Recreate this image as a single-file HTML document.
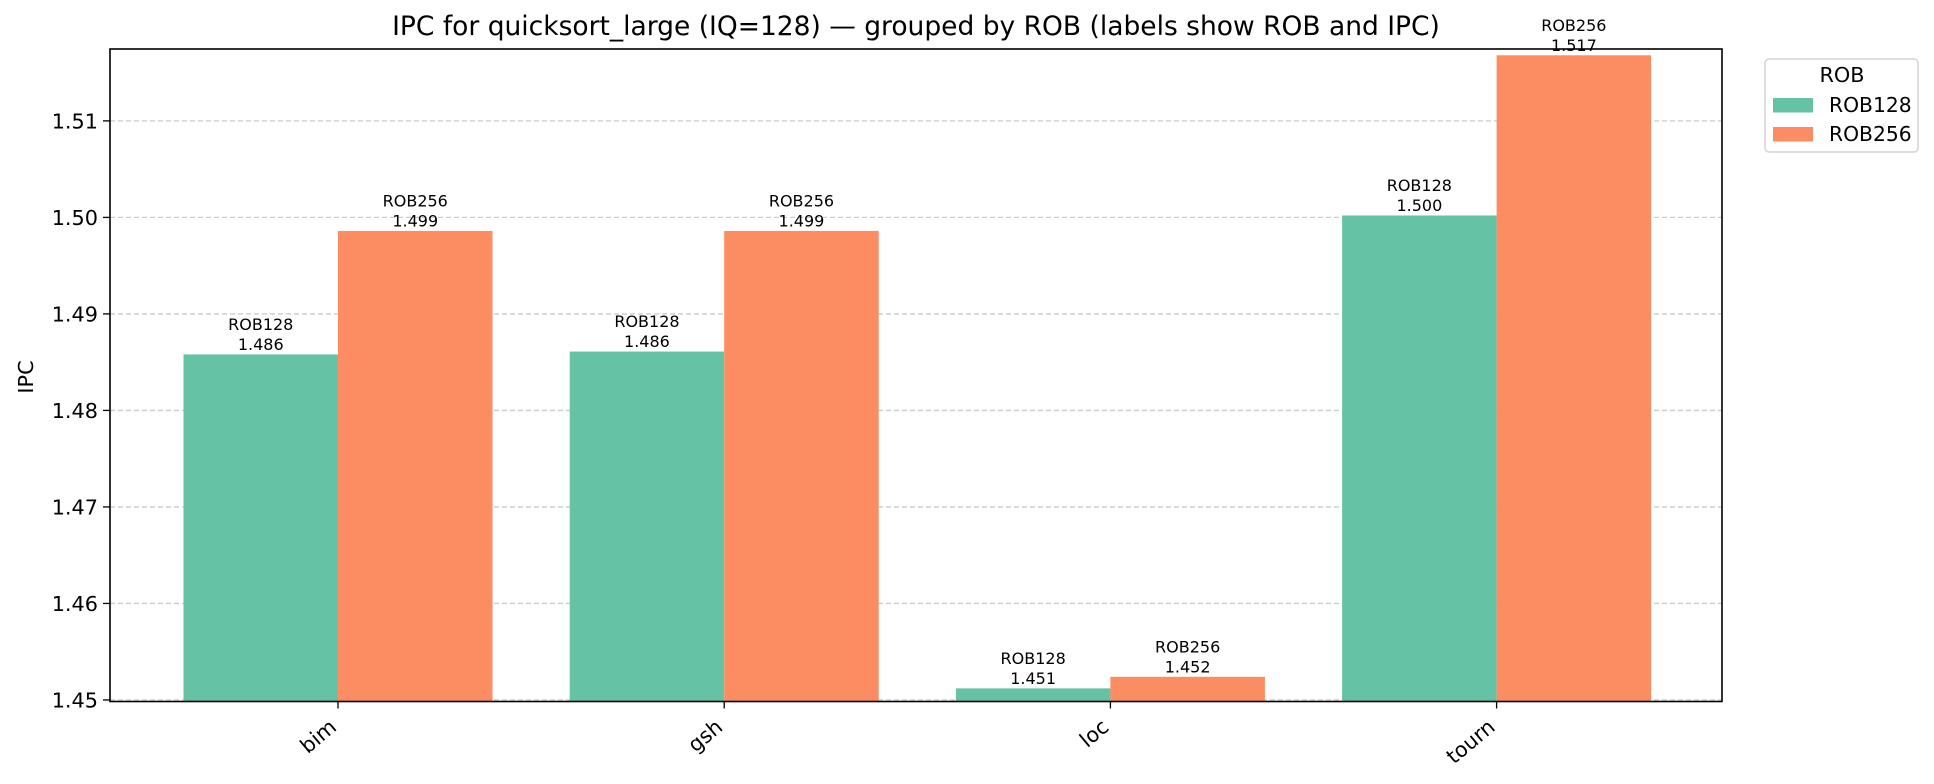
<!DOCTYPE html>
<html><head><meta charset="utf-8">
<style>
html,body{margin:0;padding:0;background:#fff;}
svg{display:block;font-family:"DejaVu Sans","Liberation Sans",sans-serif;}
</style></head>
<body>
<svg id="chart" width="1934" height="784" viewBox="0 0 1934 784" xmlns="http://www.w3.org/2000/svg">
<rect x="0" y="0" width="1934" height="784" fill="#fff"/>
<text x="916" y="35" font-size="26.5" text-anchor="middle" fill="#000">IPC for quicksort_large (IQ=128) — grouped by ROB (labels show ROB and IPC)</text>
<text transform="translate(33,377) rotate(-90)" font-size="20.8" text-anchor="middle" fill="#000">IPC</text>
<g id="grid"></g>
<g id="bars"></g>
<g id="labels"></g>
<g id="yticks"></g>
<g id="xticks"></g>
<rect x="110" y="49" width="1612" height="652.5" fill="none" stroke="#000" stroke-width="1.6"/>
<g>
<rect x="1765" y="59" width="153" height="93" rx="4" fill="#fff" stroke="#d4d4d4" stroke-width="1.5"/>
<text x="1842" y="82" font-size="20.8" text-anchor="middle" fill="#000">ROB</text>
<rect x="1773" y="98" width="40" height="14.5" fill="#66c2a5"/>
<text x="1829" y="112" font-size="20.3" fill="#000">ROB128</text>
<rect x="1773" y="127" width="40" height="14.5" fill="#fc8d62"/>
<text x="1829" y="141" font-size="20.3" fill="#000">ROB256</text>
</g>
</svg>
<script>
const categories = ["bim", "gsh", "loc", "tourn"];
const seriesNames = ["ROB128", "ROB256"];
const rob128 = [1.4858, 1.4861, 1.4512, 1.5002];
const rob256 = [1.4986, 1.4986, 1.4524, 1.5168];
const yTicks = [1.45, 1.46, 1.47, 1.48, 1.49, 1.50, 1.51];
const yTickLabels = ["1.45", "1.46", "1.47", "1.48", "1.49", "1.50", "1.51"];

const NS = "http://www.w3.org/2000/svg";
const X0 = 110, X1 = 1722, Y_TOP = 49, Y_BOT = 701.5;
const yMin = 1.44984, yMax = 1.51745;
function yScale(v){ return Y_BOT - (v - yMin) / (yMax - yMin) * (Y_BOT - Y_TOP); }
const catStep = 386.2, catStart = 338;
function xScale(i){ return catStart + i * catStep; }
const barW = 154.5;
const colors = ["#66c2a5", "#fc8d62"];
const series = [rob128, rob256];

function mk(tag, attrs, parent){
  const e = document.createElementNS(NS, tag);
  for (const k in attrs) e.setAttribute(k, attrs[k]);
  parent.appendChild(e);
  return e;
}
const grid = document.getElementById("grid");
const yt = document.getElementById("yticks");
yTicks.forEach((t, i) => {
  const y = yScale(t);
  const gl = mk("line", {x1: X0, x2: X1, y1: y, y2: y, stroke: "#cccccc", "stroke-width": 1.3, "stroke-dasharray": "5,3"}, grid);
  
  
  const tk = mk("line", {x1: X0 - 7, x2: X0, y1: y, y2: y, stroke: "#000", "stroke-width": 1.3}, yt);
  
  
  const tl = mk("text", {x: X0 - 12, y: y + 7.5, "font-size": 20.8, "text-anchor": "end", fill: "#000"}, yt);
  tl.textContent = yTickLabels[i];
  
  
});
const bars = document.getElementById("bars");
const labels = document.getElementById("labels");
const xt = document.getElementById("xticks");
categories.forEach((c, i) => {
  const cx = xScale(i);
  series.forEach((s, j) => {
    const x = cx - barW + j * barW;
    const y = yScale(s[i]);
    const r = mk("rect", {x: x, y: y, width: barW, height: Y_BOT - y, fill: colors[j]}, bars);
    
    
    const t1 = mk("text", {x: x + barW / 2, y: y - 24.5, "font-size": 16, "text-anchor": "middle", fill: "#000"}, labels);
    t1.textContent = seriesNames[j];
    
    
    const t2 = mk("text", {x: x + barW / 2, y: y - 4.5, "font-size": 16, "text-anchor": "middle", fill: "#000"}, labels);
    t2.textContent = s[i].toFixed(3);
    
    
  });
  const tk = mk("line", {x1: cx, x2: cx, y1: Y_BOT, y2: Y_BOT + 7, stroke: "#000", "stroke-width": 1.3}, xt);
  
  
  const tl = mk("text", {transform: "translate(" + (cx - 10) + "," + (Y_BOT + 16) + ") rotate(-40)", "font-size": 20.8, "text-anchor": "end", "dominant-baseline": "hanging", fill: "#000"}, xt);
  tl.textContent = c;
  
  
});
</script>
</body></html>
